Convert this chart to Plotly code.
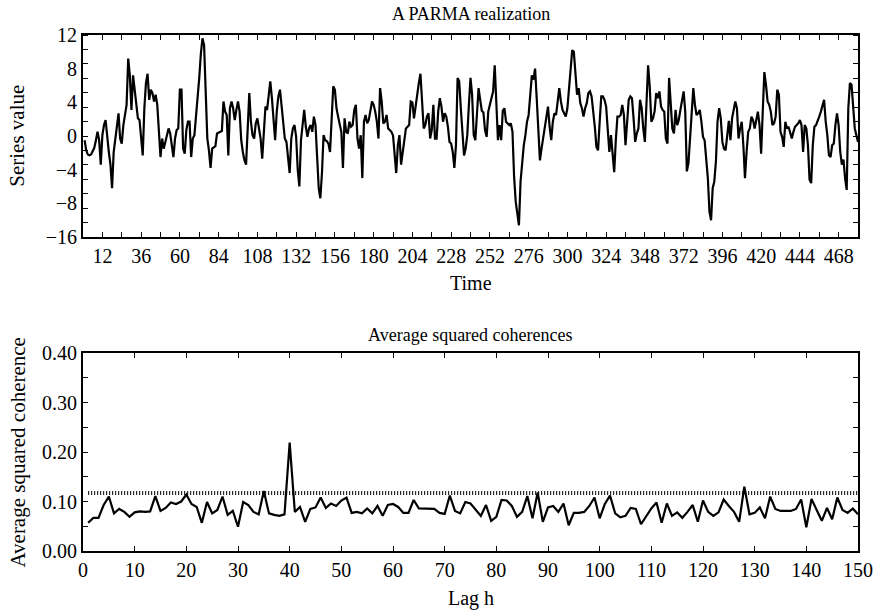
import plotly.graph_objects as go

# PARMA realization, t = 1..480
series_value = [
    -0.5, -1.7, -2.2, -2.3, -2.2, -1.7, -1.4, -0.5, 0.5, -0.5,
    -3.4, 0.1, 1.3, 1.9, -0.3, -1.9, -3.4, -6.2, -1.9, -0.5,
    1.1, 2.7, -0.3, -0.9, 1.3, 2.3, 3.7, 9.2, 7.2, 3.1,
    7.2, 5.5, 3.3, 2.1, 1.9, 0.1, -2.3, 3.3, 6.3, 7.4,
    4.3, 5.5, 5.1, 4.1, 4.9, 3.7, 0.9, -2.5, -0.3, -1.5,
    -0.7, 0.1, 0.9, 0.3, -1.1, -2.5, -0.3, 0.7, 0.9, 5.5,
    5.5, -1.5, -2.1, 0.7, 1.7, 1.7, -2.5, -0.3, 0.1, 2.3,
    3.7, 6.9, 9.8, 11.6, 10.8, 6.1, -0.3, -1.7, -3.8, -1.5,
    -1.3, -1.2, 0.3, 0.4, 0.5, 0.6, 4.1, 2.9, 2.5, -2.3,
    3.3, 4.1, 3.3, 1.9, 3.1, 4.1, 2.9, -0.5, -1.9, -2.9,
    -3.4, 1.7, 5.1, 1.7, 0.1, -0.3, 1.5, 2.1, 0.9, -0.3,
    -2.7, 1.3, 3.5, 3.1, 4.5, 6.5, 4.5, 1.3, -0.5, 2.9,
    4.7, 5.5, 3.5, 1.3, -0.3, -0.7, -2.3, -4.4, -0.3, 0.9,
    1.3, -0.1, -4.0, -6.0, -0.5, 1.3, 3.1, 1.1, -0.1, 0.9,
    1.3, 0.5, 2.3, 1.3, -2.1, -6.2, -7.4, -4.4, 0.1, -0.5,
    -0.6, -0.9, -1.9, 1.3, 5.9, 5.5, 3.3, 2.3, 1.5, 0.5,
    -3.8, 2.1, 0.5, 0.3, 1.7, 1.1, 1.3, 3.1, 3.7, -0.3,
    -1.5, 0.1, -5.0, 1.7, 2.5, 1.5, 1.9, 2.9, 4.1, 3.7,
    2.9, 1.7, -0.3, 5.7, 4.1, 1.5, 1.7, 2.5, 0.9, 0.7,
    0.5, 0.1, -2.3, -4.4, -1.1, 0.1, -3.4, -1.7, -0.7, 0.9,
    1.1, 1.3, 4.1, 4.0, 2.1, 3.7, 5.1, 6.3, 7.4, 4.1,
    0.9, 1.3, 2.3, 2.7, -0.3, 0.7, 3.7, -0.3, -0.3, 2.9,
    4.5, 3.5, 1.7, 2.7, 2.3, 1.1, -0.7, -0.9, -1.9, -3.8,
    -1.1, 6.9, 6.5, 3.3, 0.9, -2.3, -1.5, 0.1, 3.7, 6.9,
    4.9, 0.1, -0.5, 2.7, 5.7, 4.3, 3.0, 2.8, 0.7, -0.1,
    2.9, 3.7, 4.7, 5.3, 8.4, 4.5, -0.5, 1.3, -0.5, 3.0,
    3.3, 1.7, 1.5, 1.3, 1.5, 0.5, -4.8, -7.8, -9.2, -10.6,
    -5.4, -2.7, -1.1, 0.1, 1.7, 2.5, 5.3, 7.2, 6.7, 8.0,
    4.5, 0.5, -2.9, -1.5, -0.1, 1.3, 2.7, 3.5, 1.1, -0.5,
    1.7, 2.7, 2.5, 4.3, 5.7, 4.1, 3.1, 2.7, 2.3, 3.3,
    5.5, 8.6, 10.2, 10.0, 6.7, 4.9, 5.7, 3.9, 3.3, 2.3,
    3.3, 3.9, 5.1, 5.3, 4.7, 3.1, 1.1, -1.3, -1.7, 1.7,
    4.7, 4.7, 4.3, 3.5, 0.2, -1.9, 0.1, -2.7, -4.3, -0.5,
    2.3, 2.3, 2.5, 3.7, 2.5, -1.1, 1.7, 4.3, 4.7, 4.5,
    2.1, -0.7, 0.3, 0.9, 4.3, 3.3, 0.9, -0.7, 3.9, 8.4,
    5.9, 1.7, 2.1, 2.9, 5.1, 4.5, 5.3, 3.5, 3.1, 2.9,
    -0.3, -0.9, 6.9, 3.1, 0.9, 0.3, 3.1, 1.3, 1.9, 3.1,
    4.5, 5.3, 2.9, -4.2, -3.2, -0.3, 3.3, 5.7, 3.7, 2.5,
    2.7, 3.1, 1.7, -0.1, -0.5, -2.7, -5.0, -9.0, -10.0, -6.2,
    -5.4, -3.0, 1.7, 3.3, 2.1, -0.7, -1.5, -1.7, 0.5, 1.8,
    -0.5, 2.1, 3.1, 4.1, 3.3, -0.3, 0.9, 1.7, -1.1, -5.0,
    -1.9, 0.5, 0.9, 2.3, 1.9, 0.9, 1.9, 2.9, 1.3, -2.1,
    2.9, 7.6, 6.1, 4.1, 3.7, 2.9, 1.3, 1.5, 2.3, 5.5,
    4.9, 0.5, -0.1, -1.3, 1.7, 0.9, 1.1, 0.5, -0.3, 0.5,
    1.1, 1.3, 1.5, 1.9, 1.3, -1.9, 1.3, 0.9, -1.1, -5.2,
    -5.6, -1.1, 1.1, 1.3, 1.7, 2.3, 2.9, 3.7, 4.3, 1.7,
    0.1, -2.3, -2.5, -1.1, -0.9, 1.3, 2.7, 1.3, -1.9, -3.4,
    -2.8, -5.0, -6.4, 3.3, 6.3, 6.1, 3.3, 0.9, 0.1, -0.7,
]
time = list(range(1, len(series_value) + 1))

# Average squared coherence for lags h = 1..150
coherence = [
    0.057, 0.067, 0.067, 0.093, 0.110, 0.076, 0.085, 0.079, 0.069, 0.078,
    0.080, 0.079, 0.080, 0.111, 0.081, 0.087, 0.098, 0.095, 0.100, 0.114,
    0.095, 0.089, 0.057, 0.099, 0.076, 0.083, 0.110, 0.073, 0.081, 0.049,
    0.099, 0.093, 0.079, 0.074, 0.121, 0.076, 0.073, 0.071, 0.074, 0.219,
    0.079, 0.089, 0.059, 0.085, 0.088, 0.108, 0.087, 0.096, 0.091, 0.102,
    0.108, 0.077, 0.079, 0.076, 0.086, 0.076, 0.091, 0.071, 0.093, 0.095,
    0.089, 0.077, 0.077, 0.103, 0.086, 0.086, 0.085, 0.085, 0.077, 0.075,
    0.112, 0.081, 0.076, 0.099, 0.096, 0.084, 0.071, 0.093, 0.061, 0.069,
    0.103, 0.102, 0.091, 0.069, 0.079, 0.111, 0.066, 0.118, 0.059, 0.088,
    0.091, 0.079, 0.096, 0.052, 0.077, 0.077, 0.079, 0.091, 0.108, 0.066,
    0.095, 0.112, 0.076, 0.068, 0.071, 0.087, 0.085, 0.054, 0.071, 0.086,
    0.098, 0.057, 0.096, 0.071, 0.078, 0.067, 0.079, 0.093, 0.059, 0.102,
    0.079, 0.071, 0.078, 0.104, 0.091, 0.079, 0.059, 0.130, 0.074, 0.077,
    0.088, 0.066, 0.110, 0.085, 0.081, 0.081, 0.081, 0.085, 0.104, 0.048,
    0.105, 0.083, 0.061, 0.087, 0.064, 0.108, 0.083, 0.077, 0.086, 0.074,
]
lag = list(range(1, len(coherence) + 1))
threshold = 0.117

# Axis labelling
time_ticks = list(range(12, 469, 24))
value_tickvals = [12, 8, 4, 0, -4, -8, -12]
value_ticktext = ["12", "8", "4", "0", "\u22124", "\u22128", "\u221216"]
value_minor = [12 - k * 24 / 14 for k in range(15)]

FONT = "Liberation Serif"
TICK_SIZE = 20
TITLE_SIZE = 18
XTITLE_SIZE = 20
YTITLE_SIZE = 21

fig = go.Figure()
fig.add_trace(go.Scatter(x=time, y=series_value, mode="lines",
                         line=dict(color="black", width=2.2),
                         xaxis="x", yaxis="y", showlegend=False))
fig.add_trace(go.Scatter(x=lag, y=coherence, mode="lines",
                         line=dict(color="black", width=2.2),
                         xaxis="x2", yaxis="y2", showlegend=False))
fig.add_trace(go.Scatter(x=[lag[0], lag[-1]], y=[threshold, threshold], mode="lines",
                         line=dict(color="black", width=4, dash="1px,2px"),
                         xaxis="x2", yaxis="y2", showlegend=False))

axis_common = dict(showline=True, linecolor="black", linewidth=2, mirror="ticks",
                   showgrid=False, zeroline=False, ticks="inside", ticklen=5,
                   tickwidth=1, tickcolor="black",
                   tickfont=dict(family=FONT, size=TICK_SIZE, color="black"))
minor_common = dict(ticks="inside", ticklen=5, tickwidth=1, tickcolor="black")

fig.update_layout(
    width=885, height=610,
    margin=dict(l=83, r=20, t=35, b=59),
    paper_bgcolor="white", plot_bgcolor="white",
    font=dict(family=FONT, color="black"),
    xaxis=dict(axis_common, domain=[0, 1], anchor="y", range=[0, 480],
               tickvals=time_ticks,
               minor=dict(minor_common, dtick=12, tick0=0)),
    yaxis=dict(axis_common, domain=[0.6085, 1], anchor="x", range=[-12, 12],
               tickvals=value_tickvals, ticktext=value_ticktext, ticks="",
               minor=dict(minor_common, tickvals=value_minor)),
    xaxis2=dict(axis_common, domain=[0, 1], anchor="y2", range=[0, 150],
                dtick=10, tick0=0),
    yaxis2=dict(axis_common, domain=[0, 0.3837], anchor="x2", range=[0, 0.4],
                dtick=0.1, tick0=0, tickformat=".2f",
                minor=dict(minor_common, dtick=0.05, tick0=0)),
)

def label(text, x, y, size, angle=0):
    fig.add_annotation(text=text, x=x, y=y, xref="paper", yref="paper",
                       showarrow=False, textangle=angle,
                       xanchor="center", yanchor="middle",
                       font=dict(family=FONT, size=size, color="black"))

label("A PARMA realization", 0.5, 1.0407, TITLE_SIZE)
label("Time", 0.5, 0.5194, XTITLE_SIZE)
label("Series value", -0.0844, 0.804, YTITLE_SIZE, -90)
label("Average squared coherences", 0.5, 0.4186, TITLE_SIZE)
label("Lag h", 0.5, -0.0911, XTITLE_SIZE)
label("Average squared coherence", -0.0844, 0.19, YTITLE_SIZE, -90)

fig.write_html("out.html")
